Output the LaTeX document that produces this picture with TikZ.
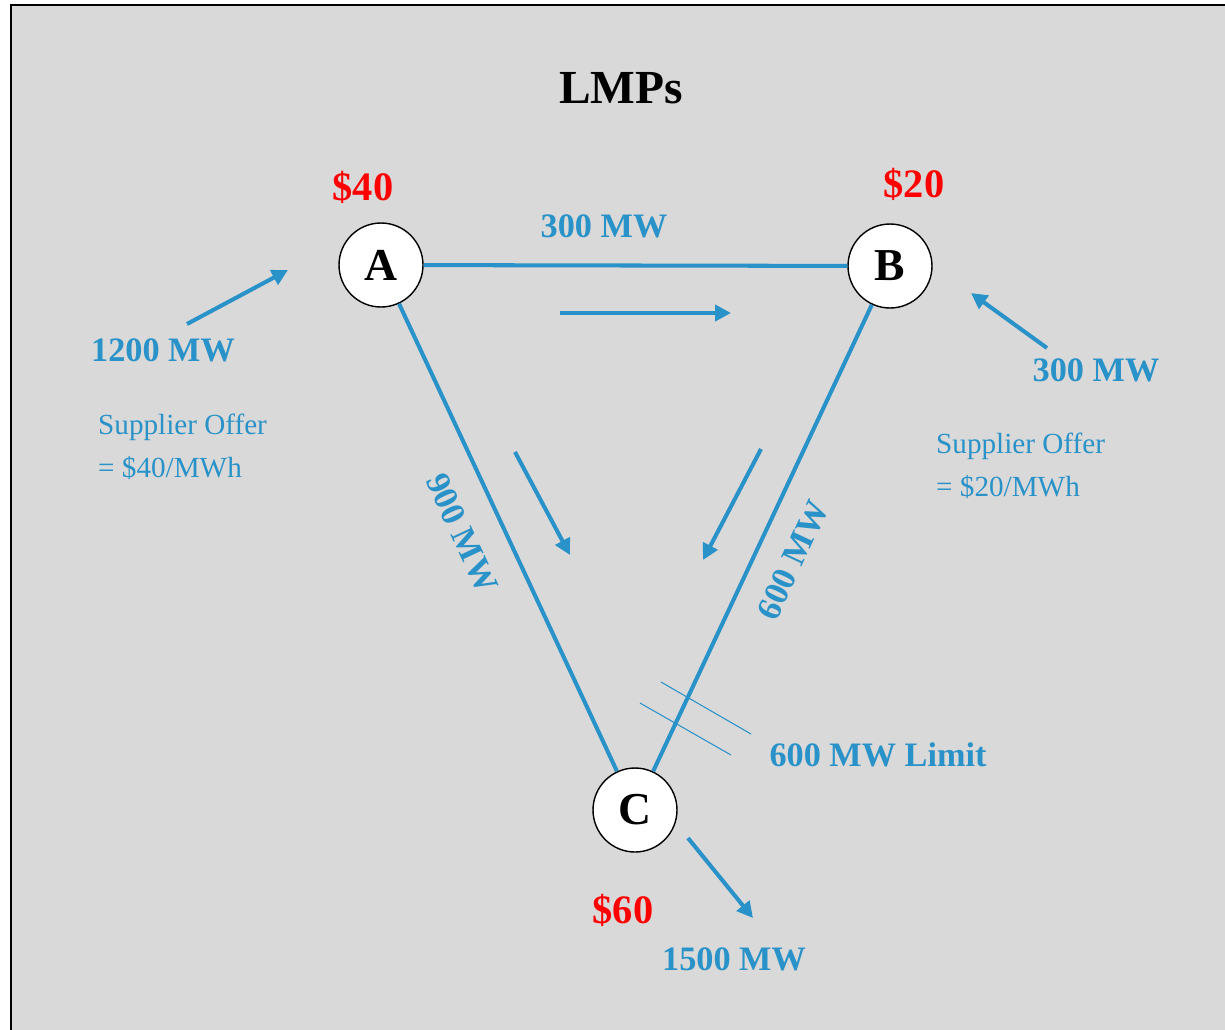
\documentclass[tikz,border=0pt]{standalone}
\usepackage{fontspec}
\setmainfont{Liberation Serif}
\usetikzlibrary{arrows.meta}
\definecolor{flowblue}{RGB}{41,146,200}
\definecolor{panelgray}{RGB}{217,217,217}

\begin{document}
\begin{tikzpicture}[x=0.02cm,y=-0.02cm,
        bus/.style = {circle, draw=black, line width=0.8pt, fill=white,
            minimum size=1.68cm, inner sep=0pt,
            font=\fontsize{26}{30}\selectfont\bfseries,
        },
        line/.style = {draw=flowblue, line width=2.3pt},
        flow/.style = {draw=flowblue, line width=2.3pt,
            -{Triangle[length=0.32cm,width=0.32cm]}},
        mw/.style = {text=flowblue, font=\fontsize{19.5}{23}\selectfont\bfseries},
        price/.style = {text=red, font=\fontsize{23}{27}\selectfont\bfseries},
        offer/.style = {text=flowblue, align=left, anchor=west,
            font=\fontsize{16.6}{24.4}\selectfont},
    ]

    % Panel
    \clip (0,0) rectangle (1225,1029);
    \fill[panelgray] (11,5) rectangle (1240,1045);
    \draw[line width=1.2pt] (11,5) rectangle (1240,1045);

    % Title
    \node[font=\fontsize{27}{32}\selectfont\bfseries] (title) at (621,88) {LMPs};

    % Buses
    \node[bus] (A) at (381,265) {A};
    \node[bus] (B) at (890,266) {B};
    \node[bus] (C) at (635,810) {C};

    % Lines
    \draw[line] (A) -- (B);
    \draw[line] (A) -- (C);
    \draw[line] (B) -- (C);

    % Prices
    \node[price] (pA) at (363,187) {\$40};
    \node[price] (pB) at (914,184) {\$20};
    \node[price] (pC) at (623,910) {\$60};

    % Line flows
    \node[mw] (fAB) at (604,226) {300 MW};
    \node[mw,rotate=-65] (fAC) at (462,533) {900 MW};
    \node[mw,rotate=65] (fBC) at (793,560) {600 MW};

    \coordinate (ab0) at (560,313);
    \coordinate (ab1) at (731,313);
    \coordinate (ac0) at (515,452);
    \coordinate (ac1) at (570,555);
    \coordinate (bc0) at (761,449);
    \coordinate (bc1) at (703,560);
    \draw[flow] (ab0) -- (ab1);
    \draw[flow] (ac0) -- (ac1);
    \draw[flow] (bc0) -- (bc1);

    % Injections and load
    \coordinate (inA0) at (187,324);
    \coordinate (inA1) at (288,270);
    \coordinate (inB0) at (1047,348);
    \coordinate (inB1) at (971,293);
    \coordinate (outC0) at (688,838);
    \coordinate (outC1) at (753,918);
    \draw[flow] (inA0) -- (inA1);
    \draw[flow] (inB0) -- (inB1);
    \draw[flow] (outC0) -- (outC1);

    \node[mw] (gA) at (163,350) {1200 MW};
    \node[mw] (gB) at (1096,370) {300 MW};
    \node[mw] (dC) at (734,959) {1500 MW};

    % Offers
    \node[offer] (oA) at (92,447) {Supplier Offer\\= \$40/MWh};
    \node[offer] (oB) at (930,466) {Supplier Offer\\= \$20/MWh};

    % Limit marks
    \coordinate (lim1a) at (661,682);
    \coordinate (lim1b) at (751,734);
    \coordinate (lim2a) at (640,703);
    \coordinate (lim2b) at (731,755);
    \draw[flowblue, line width=0.6pt] (lim1a) -- (lim1b);
    \draw[flowblue, line width=0.6pt] (lim2a) -- (lim2b);
    \node[mw] (lim) at (878,755) {600 MW Limit};

\end{tikzpicture}
\end{document}
